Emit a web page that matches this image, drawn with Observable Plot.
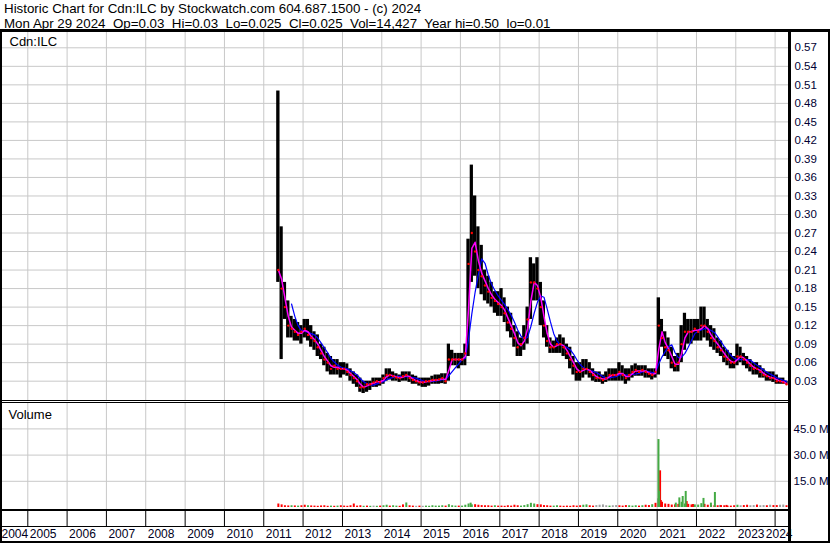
<!DOCTYPE html>
<html><head><meta charset="utf-8">
<script src="https://cdn.jsdelivr.net/npm/d3@7"></script>
<script src="https://cdn.jsdelivr.net/npm/@observablehq/plot@0.6"></script>
<style>
body{margin:0;background:#fff;}
#chart{position:relative;width:830px;height:543px;overflow:hidden;font-family:"Liberation Sans",Arial,sans-serif;background:#fff;}
.hdr{position:absolute;left:4px;font-size:13.33px;white-space:pre;line-height:15px;color:#000;}
.panel{position:absolute;left:0;}
.ln{position:absolute;background:#000;}
</style></head><body>
<div id="chart"></div>
<script>
// ---------- DATA (monthly, May 2011 - Apr 2024) ----------
const firstMonth = "2011-05-01";
const priceHigh = [
  0.50,0.28,0.19,0.16,0.135,0.13,0.125,0.12,
  0.13,0.13,0.12,0.11,0.105,0.09,0.085,0.075,0.07,0.065,0.065,0.06,
  0.06,0.058,0.05,0.045,0.04,0.035,0.03,0.03,0.03,0.035,0.035,0.035,
  0.04,0.05,0.05,0.045,0.042,0.04,0.045,0.045,0.045,0.04,0.038,0.035,
  0.035,0.035,0.035,0.038,0.04,0.04,0.042,0.042,0.09,0.08,0.075,0.075,
  0.075,0.09,0.26,0.38,0.33,0.28,0.25,0.21,0.20,0.19,0.175,0.175,
  0.18,0.165,0.15,0.14,0.12,0.11,0.10,0.12,0.15,0.23,0.22,0.23,
  0.19,0.16,0.12,0.10,0.095,0.10,0.105,0.10,0.09,0.085,0.07,0.06,
  0.06,0.065,0.065,0.06,0.05,0.045,0.045,0.04,0.045,0.05,0.05,0.05,
  0.06,0.055,0.05,0.05,0.055,0.058,0.055,0.055,0.055,0.05,0.05,0.05,
  0.165,0.13,0.11,0.10,0.085,0.07,0.075,0.12,0.14,0.13,0.13,0.13,
  0.13,0.15,0.15,0.13,0.12,0.115,0.10,0.095,0.085,0.08,0.075,0.07,
  0.09,0.085,0.075,0.07,0.065,0.06,0.06,0.055,0.05,0.045,0.045,0.045,
  0.04,0.035,0.035,0.03
];
const priceLow = [
  0.19,0.065,0.13,0.10,0.10,0.095,0.095,0.09,
  0.10,0.095,0.085,0.08,0.07,0.065,0.055,0.045,0.04,0.04,0.04,0.035,
  0.04,0.038,0.03,0.025,0.02,0.012,0.01,0.012,0.015,0.02,0.02,0.022,
  0.025,0.03,0.032,0.03,0.03,0.028,0.03,0.03,0.028,0.025,0.025,0.022,
  0.02,0.02,0.022,0.025,0.025,0.025,0.026,0.025,0.03,0.055,0.055,0.05,
  0.055,0.055,0.07,0.19,0.20,0.18,0.17,0.16,0.155,0.15,0.14,0.135,
  0.135,0.125,0.11,0.10,0.085,0.07,0.07,0.08,0.09,0.13,0.16,0.16,
  0.12,0.10,0.085,0.075,0.075,0.075,0.075,0.07,0.065,0.05,0.04,0.03,
  0.03,0.035,0.04,0.035,0.03,0.028,0.028,0.025,0.028,0.03,0.03,0.03,
  0.03,0.03,0.025,0.03,0.035,0.038,0.038,0.038,0.035,0.035,0.032,0.035,
  0.04,0.085,0.07,0.065,0.05,0.045,0.045,0.06,0.08,0.09,0.09,0.095,
  0.095,0.095,0.10,0.095,0.085,0.08,0.075,0.07,0.06,0.055,0.05,0.05,
  0.055,0.06,0.055,0.05,0.045,0.04,0.04,0.035,0.035,0.03,0.03,0.028,
  0.025,0.025,0.025,0.025
];
const priceClose = [
  0.21,0.18,0.15,0.12,0.115,0.11,0.105,0.11,
  0.115,0.105,0.10,0.095,0.085,0.075,0.065,0.06,0.05,0.055,0.05,0.05,
  0.05,0.045,0.04,0.035,0.03,0.02,0.02,0.025,0.025,0.028,0.03,0.028,
  0.035,0.04,0.04,0.038,0.036,0.035,0.038,0.04,0.035,0.032,0.03,0.028,
  0.028,0.03,0.03,0.032,0.032,0.033,0.035,0.03,0.065,0.065,0.065,0.065,
  0.065,0.075,0.22,0.27,0.24,0.21,0.20,0.185,0.175,0.165,0.16,0.155,
  0.15,0.14,0.125,0.115,0.10,0.085,0.09,0.10,0.13,0.19,0.19,0.18,
  0.15,0.12,0.095,0.085,0.085,0.09,0.09,0.085,0.075,0.065,0.055,0.045,
  0.045,0.05,0.05,0.045,0.04,0.035,0.035,0.032,0.035,0.04,0.04,0.04,
  0.045,0.04,0.035,0.04,0.045,0.048,0.045,0.048,0.045,0.042,0.04,0.045,
  0.12,0.10,0.085,0.08,0.06,0.055,0.06,0.09,0.11,0.11,0.11,0.115,
  0.11,0.12,0.12,0.11,0.10,0.095,0.085,0.08,0.07,0.065,0.06,0.06,
  0.07,0.07,0.065,0.06,0.055,0.05,0.05,0.045,0.04,0.038,0.035,0.035,
  0.03,0.03,0.028,0.025
];
// monthly volume (millions) and direction (u up / d down / n unchanged)
const volMonthly = [
  2.0,1.5,1.0,0.9,1.0,0.9,0.8,1.0,
  1.3,1.0,0.9,0.8,0.7,0.9,1.0,0.7,0.8,0.7,0.8,1.0,
  0.8,0.7,1.0,2.0,0.8,1.0,0.7,0.8,0.7,0.8,0.7,0.8,
  1.0,1.3,0.8,1.0,0.8,0.7,1.5,2.6,1.0,0.8,0.7,0.8,
  0.7,0.8,0.7,1.0,0.8,0.8,1.0,0.8,1.6,1.0,0.8,0.8,
  0.8,1.3,2.0,1.5,1.6,1.3,1.1,1.0,1.0,0.8,1.0,0.8,
  0.8,0.7,1.0,0.8,1.3,1.0,0.8,1.1,1.6,2.4,2.0,1.6,
  1.5,1.1,1.0,0.8,0.8,1.0,0.8,0.7,0.8,0.7,1.0,0.8,
  1.0,1.3,1.5,1.0,0.8,1.1,1.3,1.5,1.0,0.8,1.0,1.1,
  1.0,0.8,1.1,1.0,0.8,1.0,0.8,1.0,1.3,1.1,1.6,2.4,
  4.5,3.0,2.0,1.8,1.4,1.5,1.8,3.0,2.0,1.8,1.5,1.5,
  1.4,2.2,1.8,1.3,1.1,1.0,1.0,1.1,1.0,0.8,0.8,1.0,
  1.3,1.0,1.1,1.3,1.0,1.1,1.4,1.0,1.1,1.0,1.3,1.1,
  1.1,1.3,1.4,1.0
];
const volDirMonthly = (
  "ddddudud" + "duddddddudud" + "ddddddudunud" + "uuduudduddnd" +
  "nuuuuuuduuud" + "uuuuddddddud" + "dddddduuuuud" + "dddduudddddd" +
  "duuddnnnnunn" + "ddduuududdud" + "udddddduuddu" + "uudddddddddd" +
  "unddnndnndnd" + "dnnd").split("");
// notable single-day volume bars
const spikeDates = ["2016-04-05","2021-01-09","2021-01-13","2021-01-19","2021-01-28","2021-02-04",
  "2021-06-23","2021-07-26","2021-08-26","2021-09-23","2021-10-02","2021-11-30",
  "2022-03-07","2022-05-15","2022-06-21","2022-08-07","2022-10-07"];
const spikeVol = [2.5,5,38.9,9.2,21,4, 2.5,5.5,6.3,9.2,3.4,1.7, 5.2,2.5,8.6,1.2,1.2];
const spikeDir = ["u","n","u","u","d","d", "u","u","u","u","d","d", "u","u","u","n","d"];
// tick labels
const priceTicks = [0.03,0.06,0.09,0.12,0.15,0.18,0.21,0.24,0.27,0.30,0.33,0.36,0.39,0.42,0.45,0.48,0.51,0.54,0.57];
const volTicks = [15,30,45];
const years = [2004,2005,2006,2007,2008,2009,2010,2011,2012,2013,2014,2015,2016,2017,2018,2019,2020,2021,2022,2023,2024];
const header1 = "Historic Chart for Cdn:ILC by Stockwatch.com 604.687.1500 - (c) 2024";
const header2 = "Mon Apr 29 2024  Op=0.03  Hi=0.03  Lo=0.025  Cl=0.025  Vol=14,427  Year hi=0.50  lo=0.01";

// ---------- BUILD ----------
const FONT = "'Liberation Sans', Arial, sans-serif";
const AXIS_COLOR = "#000033";
const GRID = "#c8c8c8";
const PLOT_W = 789, W = 830;

// x scale calibrated so that Jan 1 2005 and Jan 1 2024 fall on the year separators
const mpp = (Date.UTC(2024,0,1) - Date.UTC(2005,0,1)) / (774.6 - 27.3);
const d0 = new Date(Date.UTC(2005,0,1) - 27.3 * mpp);
const d1 = new Date(d0.getTime() + PLOT_W * mpp);
const xOpts = {type: "utc", domain: [d0, d1], axis: null};

const start = new Date(firstMonth + "T00:00:00Z");
const rows = priceClose.map((c, i) => {
  const s = d3.utcMonth.offset(start, i);
  const e = d3.utcMonth.offset(start, i + 1);
  return {start: s, end: e, mid: new Date((+s + +e) / 2), high: priceHigh[i], low: priceLow[i], close: c};
});
const volRows = volMonthly.map((v, i) => ({date: rows[i].mid, vol: v, dir: volDirMonthly[i]}))
  .concat(spikeDates.map((d, i) => ({date: new Date(d + "T00:00:00Z"), vol: spikeVol[i], dir: spikeDir[i]})));
const yearDates = years.map(y => new Date(Date.UTC(y, 0, 1)));
const innerYears = yearDates.filter(d => d > d0);

const style = {fontFamily: FONT, fontSize: "11.5px", color: AXIS_COLOR, background: "transparent", overflow: "visible"};
const chart = document.getElementById("chart");

function place(el, top) {
  el.classList.add("panel");
  el.style.top = top + "px";
  chart.appendChild(el);
}

// header
[[header1, 1.2], [header2, 15.6]].forEach(([t, top]) => {
  const d = document.createElement("div");
  d.className = "hdr"; d.style.top = top + "px"; d.textContent = t;
  chart.appendChild(d);
});

// price panel
const price = Plot.plot({
  width: W, height: 368, marginLeft: 0, marginRight: W - PLOT_W, marginTop: 0, marginBottom: 0,
  x: xOpts,
  y: {domain: [-0.0013, 0.5948], axis: null},
  style,
  marks: [
    Plot.ruleX(innerYears, {stroke: GRID}),
    Plot.ruleY(priceTicks, {stroke: GRID}),
    Plot.rect(rows, {x1: "start", x2: "end", y1: "low", y2: "high", fill: "black"}),
    Plot.lineY(rows, Plot.windowY({k: 5, anchor: "end", strict: true}, {x: "mid", y: "close", stroke: "#0000ff", strokeWidth: 1.2})),
    Plot.lineY(rows, Plot.windowY({k: 2, anchor: "end"}, {x: "mid", y: "close", stroke: "#ff00ff", strokeWidth: 1.5})),
    Plot.dot(rows, {x: "mid", y: "close", r: 1.2, fill: "#ff0000"}),
    Plot.text(priceTicks, {y: d => d, frameAnchor: "right", dx: 5, textAnchor: "start", text: d => d.toFixed(2)}),
    Plot.text(["Cdn:ILC"], {frameAnchor: "top-left", dx: 9, dy: 4, lineAnchor: "top", textAnchor: "start", fontSize: 13, fill: "#000"})
  ]
});
place(price, 32);

// volume panel
const colors = {u: "#44aa44", d: "#ff0000", n: "#a0a0a0"};
const volMarks = ["n", "d", "u"].map(k =>
  Plot.ruleX(volRows.filter(r => r.dir === k), {x: "date", y1: 0, y2: "vol", stroke: colors[k], strokeWidth: 2})
);
const volume = Plot.plot({
  width: W, height: 106, marginLeft: 0, marginRight: W - PLOT_W, marginTop: 0, marginBottom: 0,
  x: xOpts,
  y: {domain: [-1.145, 59.54], axis: null},
  style,
  marks: [
    Plot.ruleX(innerYears, {stroke: GRID}),
    Plot.ruleY(volTicks, {stroke: GRID}),
    ...volMarks,
    Plot.text(volTicks, {y: d => d, frameAnchor: "right", dx: 4, textAnchor: "start", text: d => d.toFixed(1) + " M"}),
    Plot.text(["Volume"], {frameAnchor: "top-left", dx: 8, dy: 6, lineAnchor: "top", textAnchor: "start", fontSize: 13, fill: "#000"})
  ]
});
place(volume, 403);

// year strip
const first = years[0], last = years[years.length - 1];
const yearsPlot = Plot.plot({
  width: W, height: 30, marginLeft: 0, marginRight: W - PLOT_W, marginTop: 0, marginBottom: 15,
  x: xOpts,
  style: {...style, fontSize: "12px", color: "#000022"},
  marks: [
    Plot.ruleX(innerYears, {stroke: "#000"}),
    Plot.text(years.filter(y => y !== first && y !== last), {x: y => new Date(Date.UTC(y, 0, 1)), frameAnchor: "bottom", dx: 2, dy: 3, lineAnchor: "top", textAnchor: "start", text: y => String(y)}),
    Plot.text([first], {x: () => d0, frameAnchor: "bottom", dx: 1, dy: 3, lineAnchor: "top", textAnchor: "start", text: y => String(y)}),
    Plot.text([last], {x: () => d1, frameAnchor: "bottom", dx: 3, dy: 3, lineAnchor: "top", textAnchor: "end", text: y => String(y)})
  ]
});
place(yearsPlot, 511);

// frame lines
function line(left, top, w, h) {
  const d = document.createElement("div");
  d.className = "ln";
  Object.assign(d.style, {left: left + "px", top: top + "px", width: w + "px", height: h + "px"});
  chart.appendChild(d);
}
line(0, 29, W, 3);          // header rule
line(0, 29, 2, 543 - 29);   // left border
line(788, 29, 2.5, 543 - 29); // plot right border
line(828, 29, 2, 543 - 29); // outer right border
line(0, 400, 790, 1);       // price bottom
line(0, 402, 790, 1);       // volume top
line(0, 509, 790, 2);       // volume bottom
line(0, 526, 790, 1);       // year strip divider
line(0, 541, W, 2);         // bottom border
</script>
</body></html>
